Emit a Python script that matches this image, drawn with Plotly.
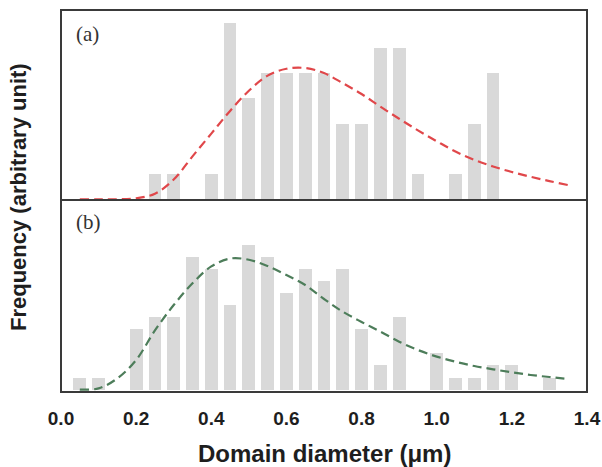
import plotly.graph_objects as go

# Panel (a) histogram
a_x = [0.25, 0.30, 0.40, 0.45, 0.50, 0.55, 0.60, 0.65, 0.70, 0.75, 0.80, 0.85, 0.90, 0.95, 1.05, 1.10, 1.15]
a_counts = [1, 1, 1, 7, 4, 5, 5, 5, 5, 3, 3, 6, 6, 1, 1, 3, 5]

# Panel (b) histogram
b_x = [0.05, 0.10, 0.20, 0.25, 0.30, 0.35, 0.40, 0.45, 0.50, 0.55, 0.60, 0.65, 0.70, 0.75, 0.80, 0.85, 0.90, 1.00, 1.05, 1.10, 1.15, 1.20, 1.30]
b_counts = [1, 1, 5, 6, 6, 11, 10, 7, 12, 11, 8, 10, 9, 10, 5, 2, 6, 3, 1, 1, 2, 2, 1]

# Fitted curves
curve_x = [0.05, 0.10, 0.15, 0.20, 0.25, 0.30, 0.35, 0.40, 0.45, 0.50, 0.55, 0.60, 0.65, 0.70,
           0.75, 0.80, 0.85, 0.90, 0.95, 1.00, 1.05, 1.10, 1.15, 1.20, 1.25, 1.30, 1.35]
a_fit = [0.0, 0.0, 0.0, 0.04, 0.22, 0.78, 1.7, 2.6, 3.5, 4.3, 4.9, 5.17, 5.2, 5.0,
         4.6, 4.17, 3.67, 3.19, 2.73, 2.3, 1.89, 1.56, 1.3, 1.08, 0.89, 0.72, 0.56]
b_fit = [0.0, 0.1, 0.93, 2.45, 4.9, 7.0, 8.8, 10.2, 10.85, 10.75, 10.23, 9.49, 8.66, 7.5,
         6.45, 5.6, 4.8, 3.97, 3.28, 2.73, 2.31, 1.95, 1.68, 1.43, 1.21, 1.04, 0.88]

x_ticks = [0.0, 0.2, 0.4, 0.6, 0.8, 1.0, 1.2, 1.4]
x_ticklabels = ["0.0", "0.2", "0.4", "0.6", "0.8", "1.0", "1.2", "1.4"]

BAR = "#d9d9d9"
LINE = "#3a3a3a"
TXT = "#1e1e1e"

fig = go.Figure()
fig.add_trace(go.Bar(x=a_x, y=a_counts, width=0.034, marker=dict(color=BAR, line=dict(width=0)),
                     xaxis="x2", yaxis="y2", showlegend=False, hoverinfo="skip"))
fig.add_trace(go.Scatter(x=curve_x, y=a_fit, mode="lines",
                         line=dict(color="#e0474a", width=2.2, dash="9px,5px", shape="spline"),
                         xaxis="x2", yaxis="y2", showlegend=False, hoverinfo="skip"))
fig.add_trace(go.Bar(x=b_x, y=b_counts, width=0.034, marker=dict(color=BAR, line=dict(width=0)),
                     xaxis="x", yaxis="y", showlegend=False, hoverinfo="skip"))
fig.add_trace(go.Scatter(x=curve_x, y=b_fit, mode="lines",
                         line=dict(color="#4d7d5a", width=2.2, dash="9px,5px", shape="spline"),
                         xaxis="x", yaxis="y", showlegend=False, hoverinfo="skip"))

split = 192 / 382

axis_common = dict(showline=False, showgrid=False, zeroline=False, automargin=False)

fig.update_layout(
    width=602, height=467,
    margin=dict(l=61, r=15, t=10, b=75, autoexpand=False),
    paper_bgcolor="white", plot_bgcolor="white",
    bargap=0,
    xaxis=dict(domain=[0, 1], anchor="y", range=[0, 1.4], tickvals=x_ticks,
               ticktext=["<b>%s</b>" % t for t in x_ticklabels],
               ticks="outside", ticklen=9, tickcolor="rgba(0,0,0,0)",
               tickfont=dict(family="Liberation Sans", size=19, color=TXT),
               **axis_common),
    xaxis2=dict(domain=[0, 1], anchor="y2", range=[0, 1.4], matches="x", showticklabels=False, ticks="", **axis_common),
    yaxis=dict(domain=[0, split], anchor="x", range=[-0.2, 15.7], showticklabels=False, ticks="", **axis_common),
    yaxis2=dict(domain=[split, 1], anchor="x2", range=[-0.03, 7.5], showticklabels=False, ticks="", **axis_common),
    shapes=[
        dict(type="rect", xref="paper", yref="paper", x0=0, x1=1, y0=0, y1=1,
             line=dict(color=LINE, width=2), layer="above"),
        dict(type="line", xref="paper", yref="paper", x0=0, x1=1, y0=split, y1=split,
             line=dict(color=LINE, width=2), layer="above"),
    ],
    annotations=[
        dict(text="(a)", x=0.025, y=0.975, xref="paper", yref="paper", xanchor="left", yanchor="top",
             showarrow=False, font=dict(family="Liberation Serif", size=21, color="#333")),
        dict(text="(b)", x=0.025, y=split * 0.96, xref="paper", yref="paper", xanchor="left", yanchor="top",
             showarrow=False, font=dict(family="Liberation Serif", size=21, color="#333")),
        dict(text="<b>Frequency (arbitrary unit)</b>", x=-0.082, y=0.51, xref="paper", yref="paper",
             textangle=-90, xanchor="center", yanchor="middle", showarrow=False,
             font=dict(family="Liberation Sans", size=22, color=TXT)),
        dict(text="<b>Domain diameter (μm)</b>", x=0.5, y=-0.162, xref="paper", yref="paper",
             xanchor="center", yanchor="middle", showarrow=False,
             font=dict(family="Liberation Sans", size=24, color=TXT)),
    ],
)

fig.write_html("out.html", config={"displayModeBar": False},
               post_script="document.body.style.margin='0';document.body.style.overflow='hidden';")
